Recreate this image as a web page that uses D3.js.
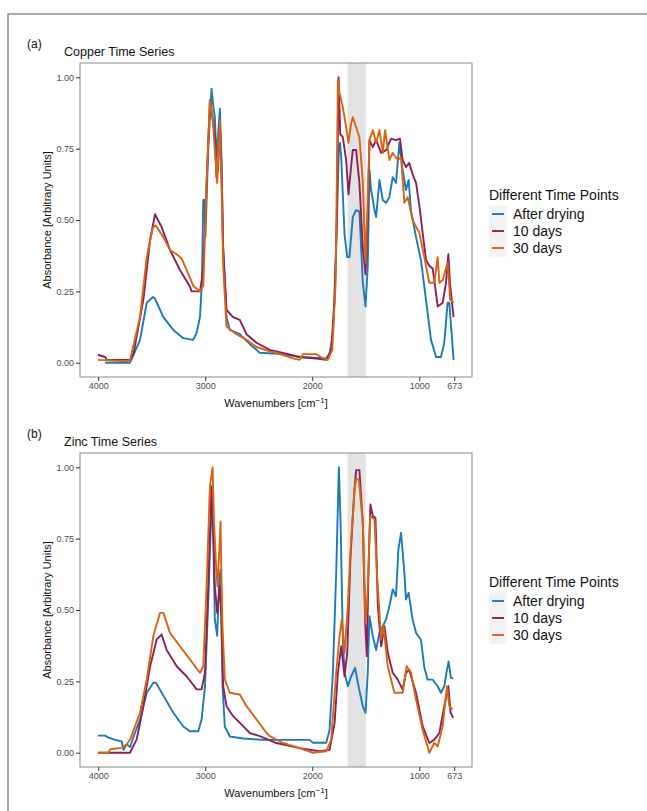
<!DOCTYPE html>
<html>
<head>
<meta charset="utf-8">
<script src="https://cdn.jsdelivr.net/npm/d3@7"></script>
<style>
  body { margin: 0; background: #fff; }
  svg { font-family: "Liberation Sans", Arial, sans-serif; }
</style>
</head>
<body>
<div id="chart"></div>
<script>
//Series names and colours
const seriesNames = ['After drying', '10 days', '30 days'];
const seriesColors = ['#1B7AB8', '#8B1F5C', '#D9640F'];

const xTicks = [4000, 3000, 2000, 1000, 673];
const yTicks = [0, 0.25, 0.5, 0.75, 1];
const bandRange = [1670, 1500];

//Copper: [wavenumber, absorbance]
const cuDry = [[3935,0],[3702,0],[3609,0.08],[3546,0.21],[3488,0.23],[3470,0.225],[3391,0.16],[3298,0.115],[3205,0.086],[3112,0.08],[3080,0.105],[3049,0.16],[3031,0.28],[3018,0.57],[3005,0.57],[2998,0.44],[2972,0.745],[2941,0.96],[2925,0.9],[2910,0.86],[2895,0.72],[2879,0.8],[2863,0.89],[2848,0.72],[2832,0.4],[2801,0.16],[2770,0.115],[2677,0.1],[2583,0.065],[2490,0.035],[2276,0.03],[2117,0.02],[1869,0.015],[1838,0.03],[1807,0.1],[1776,0.4],[1751,0.76],[1740,0.77],[1729,0.72],[1698,0.45],[1673,0.37],[1652,0.37],[1621,0.51],[1590,0.535],[1559,0.53],[1527,0.28],[1502,0.197],[1481,0.34],[1465,0.675],[1450,0.605],[1418,0.535],[1403,0.51],[1372,0.64],[1341,0.57],[1310,0.56],[1279,0.58],[1248,0.65],[1217,0.63],[1186,0.77],[1155,0.675],[1124,0.605],[1099,0.64],[1078,0.535],[1030,0.44],[984,0.36],[937,0.22],[890,0.08],[843,0.02],[797,0.02],[766,0.07],[735,0.21],[719,0.21],[679,0.01]];
const cu10 = [[4003,0.028],[3935,0.02],[3920,0.01],[3702,0.01],[3671,0.03],[3578,0.22],[3515,0.43],[3469,0.52],[3407,0.475],[3329,0.395],[3236,0.325],[3143,0.267],[3127,0.25],[3049,0.25],[3018,0.325],[2987,0.63],[2956,0.92],[2910,0.8],[2895,0.65],[2879,0.68],[2863,0.84],[2848,0.68],[2832,0.4],[2801,0.185],[2739,0.16],[2677,0.15],[2614,0.1],[2521,0.07],[2397,0.045],[2335,0.04],[2117,0.02],[1962,0.015],[1869,0.01],[1823,0.045],[1791,0.22],[1770,0.51],[1754,1.0],[1738,0.8],[1714,0.79],[1683,0.71],[1661,0.59],[1636,0.69],[1621,0.745],[1590,0.745],[1559,0.63],[1527,0.4],[1502,0.31],[1481,0.51],[1465,0.78],[1434,0.755],[1403,0.78],[1356,0.735],[1310,0.745],[1263,0.785],[1217,0.78],[1180,0.785],[1155,0.71],[1124,0.685],[1093,0.7],[1062,0.66],[1030,0.63],[999,0.55],[968,0.455],[937,0.36],[906,0.34],[875,0.33],[859,0.29],[828,0.197],[781,0.21],[750,0.28],[728,0.38],[713,0.28],[694,0.21],[679,0.16]];
const cu30 = [[4003,0.01],[3733,0.005],[3702,0.01],[3609,0.16],[3546,0.37],[3488,0.475],[3460,0.48],[3391,0.44],[3329,0.395],[3267,0.38],[3220,0.365],[3174,0.325],[3112,0.27],[3049,0.25],[3018,0.27],[2987,0.63],[2956,0.92],[2931,0.86],[2910,0.745],[2888,0.63],[2879,0.71],[2863,0.85],[2848,0.63],[2832,0.34],[2801,0.127],[2708,0.1],[2614,0.08],[2521,0.055],[2397,0.04],[2335,0.035],[2180,0.015],[2117,0.01],[2086,0.03],[1962,0.03],[1900,0.015],[1854,0.01],[1813,0.045],[1781,0.28],[1760,0.99],[1745,0.945],[1714,0.895],[1683,0.825],[1661,0.77],[1636,0.84],[1621,0.86],[1590,0.825],[1559,0.79],[1527,0.63],[1502,0.35],[1481,0.58],[1465,0.78],[1434,0.815],[1403,0.77],[1372,0.815],[1341,0.735],[1319,0.815],[1279,0.71],[1248,0.735],[1201,0.71],[1170,0.72],[1139,0.56],[1108,0.58],[1062,0.5],[999,0.455],[953,0.37],[906,0.28],[859,0.28],[828,0.37],[812,0.28],[781,0.29],[735,0.35],[710,0.22],[679,0.21]];

//Zinc: [wavenumber, absorbance]
const znDry = [[4003,0.06],[3935,0.06],[3904,0.053],[3842,0.045],[3780,0.04],[3764,0.01],[3733,0.03],[3702,0.02],[3671,0.055],[3609,0.116],[3546,0.21],[3484,0.245],[3460,0.245],[3391,0.2],[3298,0.14],[3205,0.092],[3143,0.075],[3065,0.075],[3034,0.116],[3002,0.233],[2972,0.525],[2941,0.876],[2925,0.76],[2910,0.467],[2888,0.41],[2869,0.607],[2857,0.64],[2838,0.233],[2817,0.092],[2770,0.057],[2646,0.05],[2459,0.045],[2024,0.045],[1993,0.035],[1869,0.035],[1838,0.08],[1807,0.28],[1776,0.63],[1751,1.0],[1735,0.806],[1714,0.396],[1698,0.28],[1667,0.233],[1636,0.268],[1599,0.297],[1574,0.245],[1527,0.162],[1502,0.14],[1481,0.28],[1465,0.478],[1434,0.408],[1403,0.36],[1372,0.42],[1341,0.443],[1310,0.467],[1279,0.513],[1248,0.572],[1217,0.548],[1195,0.712],[1170,0.77],[1139,0.63],[1124,0.537],[1099,0.56],[1062,0.467],[1030,0.42],[984,0.396],[953,0.3],[922,0.256],[875,0.256],[828,0.233],[797,0.21],[766,0.233],[741,0.291],[726,0.32],[704,0.262],[682,0.26]];
const zn10 = [[4003,0],[3702,0],[3690,0.01],[3640,0.047],[3578,0.163],[3515,0.303],[3453,0.397],[3407,0.414],[3360,0.36],[3267,0.303],[3174,0.268],[3080,0.222],[3034,0.222],[3002,0.28],[2972,0.583],[2941,0.934],[2925,0.78],[2910,0.583],[2888,0.49],[2863,0.583],[2848,0.467],[2832,0.233],[2801,0.163],[2739,0.128],[2646,0.093],[2583,0.069],[2490,0.058],[2335,0.034],[2117,0.016],[1931,0.005],[1838,0.01],[1791,0.104],[1760,0.28],[1729,0.373],[1698,0.268],[1673,0.35],[1642,0.689],[1605,0.923],[1590,0.99],[1559,0.99],[1527,0.8],[1505,0.455],[1490,0.338],[1471,0.689],[1456,0.87],[1434,0.829],[1409,0.823],[1387,0.514],[1356,0.373],[1325,0.443],[1294,0.35],[1248,0.28],[1201,0.256],[1155,0.221],[1124,0.28],[1093,0.29],[1030,0.21],[968,0.093],[906,0.034],[859,0.046],[812,0.069],[766,0.163],[728,0.233],[707,0.14],[682,0.122]];
const zn30 = [[4003,0],[3904,0],[3887,0.012],[3780,0.017],[3733,0.03],[3702,0.047],[3609,0.14],[3546,0.257],[3484,0.41],[3422,0.49],[3391,0.49],[3329,0.42],[3236,0.373],[3143,0.327],[3049,0.28],[3018,0.303],[2987,0.583],[2956,0.934],[2931,1.0],[2919,0.817],[2900,0.665],[2885,0.583],[2869,0.7],[2857,0.81],[2841,0.467],[2817,0.257],[2770,0.21],[2677,0.204],[2614,0.163],[2521,0.117],[2428,0.07],[2397,0.058],[2273,0.034],[2117,0.016],[1993,0],[1869,0.005],[1823,0.046],[1776,0.28],[1745,0.408],[1723,0.467],[1698,0.35],[1667,0.514],[1636,0.747],[1605,0.923],[1590,0.958],[1565,0.958],[1527,0.806],[1502,0.455],[1481,0.572],[1459,0.829],[1418,0.818],[1396,0.63],[1356,0.397],[1334,0.443],[1294,0.303],[1232,0.21],[1155,0.21],[1118,0.303],[1077,0.28],[1030,0.186],[968,0.08],[906,0],[859,0.034],[828,0.022],[781,0.093],[741,0.233],[719,0.163],[688,0.152]];

const W = 647, H = 811;
const svg = d3.select('#chart').append('svg')
    .attr('width', W)
    .attr('height', H);

//Marco exterior
svg.append('path')
    .attr('d', 'M8,811 L8,14 L647,14')
    .attr('fill', 'none')
    .attr('stroke', '#8a8a8a')
    .attr('stroke-width', 1.5);

function drawPanel(cfg) {
    let left = 80, right = 472, top = cfg.top, bottom = cfg.top + 314;

    let x = d3.scaleLinear().domain([4170, 507]).range([left, right]);
    let y = d3.scaleLinear().domain([-0.05, 1.05]).range([bottom, top]);

    let g = svg.append('g');

    //Etiqueta y título
    g.append('text')
        .attr('x', 27).attr('y', top - 15)
        .attr('font-size', 12).attr('fill', '#111')
        .text(cfg.tag);
    g.append('text')
        .attr('x', 64).attr('y', top - 7)
        .attr('font-size', 12.5).attr('fill', '#111')
        .text(cfg.title);

    //Banda gris
    g.append('rect')
        .attr('x', x(bandRange[0]))
        .attr('y', top)
        .attr('width', x(bandRange[1]) - x(bandRange[0]))
        .attr('height', bottom - top)
        .attr('fill', '#e3e3e3');

    let line = d3.line()
        .x(function(d) { return x(d[0]); })
        .y(function(d) { return y(d[1]); });

    cfg.series.forEach(function(s, i) {
        g.append('path')
            .datum(s)
            .attr('fill', 'none')
            .attr('stroke', seriesColors[i])
            .attr('stroke-width', 1.9)
            .attr('stroke-linejoin', 'round')
            .attr('d', line);
    });

    //Borde del panel
    g.append('rect')
        .attr('x', left).attr('y', top)
        .attr('width', right - left).attr('height', bottom - top)
        .attr('fill', 'none')
        .attr('stroke', '#888')
        .attr('stroke-width', 1);

    //Ejes
    let xAxis = g.append('g')
        .attr('transform', 'translate(0,' + bottom + ')')
        .call(d3.axisBottom(x).tickValues(xTicks).tickSize(4).tickPadding(2).tickFormat(d3.format('d')));
    let yAxis = g.append('g')
        .attr('transform', 'translate(' + left + ',0)')
        .call(d3.axisLeft(y).tickValues(yTicks).tickSize(4).tickPadding(2).tickFormat(d3.format('.2f')));

    [xAxis, yAxis].forEach(function(a) {
        a.select('.domain').remove();
        a.selectAll('.tick line').attr('stroke', '#333');
        a.selectAll('.tick text')
            .attr('fill', '#4d4d4d')
            .attr('font-size', 9)
            .attr('font-family', '"Liberation Sans", Arial, sans-serif');
    });

    //Títulos de ejes
    let xt = g.append('text')
        .attr('x', (left + right) / 2)
        .attr('y', bottom + 30)
        .attr('text-anchor', 'middle')
        .attr('font-size', 11).attr('fill', '#111');
    xt.append('tspan').text('Wavenumbers [cm');
    xt.append('tspan').attr('dy', -4).attr('font-size', 8).text('\u22121');
    xt.append('tspan').attr('dy', 4).text(']');

    g.append('text')
        .attr('transform', 'translate(51,' + ((top + bottom) / 2) + ') rotate(-90)')
        .attr('text-anchor', 'middle')
        .attr('font-size', 11).attr('fill', '#111')
        .text('Absorbance [Arbitrary Units]');

    //Leyenda
    let lg = g.append('g').attr('transform', 'translate(489,' + cfg.legendY + ')');
    lg.append('text')
        .attr('x', 0).attr('y', 0)
        .attr('font-size', 14).attr('fill', '#111')
        .text('Different Time Points');
    seriesNames.forEach(function(name, i) {
        let cy = 14 + i * 17;
        lg.append('rect')
            .attr('x', 0).attr('y', cy - 8.5)
            .attr('width', 18).attr('height', 17)
            .attr('fill', '#f2f2f2');
        lg.append('line')
            .attr('x1', 3).attr('x2', 15)
            .attr('y1', cy).attr('y2', cy)
            .attr('stroke', seriesColors[i])
            .attr('stroke-width', 1.9);
        lg.append('text')
            .attr('x', 24).attr('y', cy + 5)
            .attr('font-size', 14).attr('fill', '#111')
            .text(name);
    });
}

drawPanel({ top: 63, tag: '(a)', title: 'Copper Time Series', series: [cuDry, cu10, cu30], legendY: 200 });
drawPanel({ top: 453, tag: '(b)', title: 'Zinc Time Series', series: [znDry, zn10, zn30], legendY: 587 });
</script>
</body>
</html>
